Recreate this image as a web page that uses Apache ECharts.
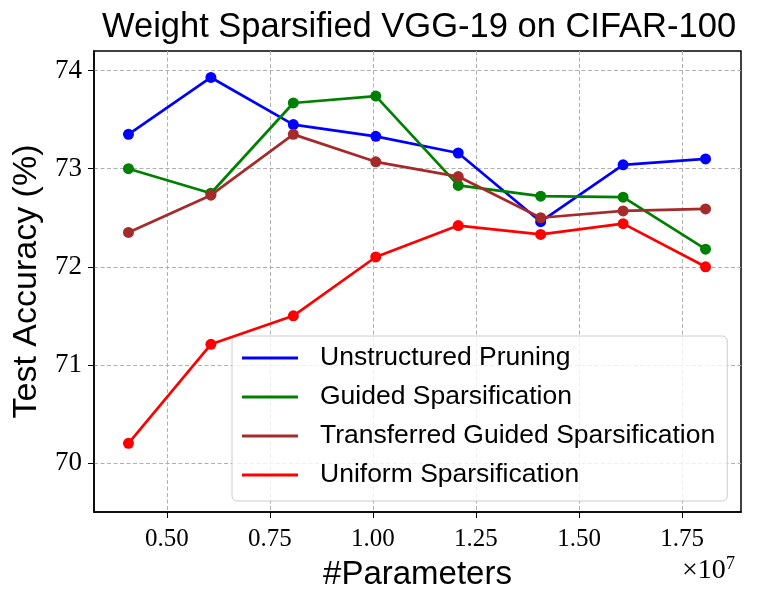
<!DOCTYPE html>
<html>
<head>
<meta charset="utf-8">
<script src="https://cdn.jsdelivr.net/npm/echarts@6/dist/echarts.min.js"></script>
<style>html,body{margin:0;padding:0;background:#fff}#c{width:762px;height:605px}</style>
</head>
<body>
<div id="c"></div>
<script>
// x values in units of 1e7 parameters
const params = [0.407, 0.607, 0.807, 1.007, 1.207, 1.407, 1.607, 1.807];
const seriesNames = ['Unstructured Pruning', 'Guided Sparsification', 'Transferred Guided Sparsification', 'Uniform Sparsification'];
const unstructured = [73.35, 73.93, 73.45, 73.33, 73.16, 72.46, 73.04, 73.10];
const guided = [73.00, 72.75, 73.67, 73.74, 72.83, 72.72, 72.71, 72.18];
const transferred = [72.35, 72.73, 73.35, 73.07, 72.92, 72.50, 72.57, 72.59];
const uniform = [70.20, 71.21, 71.50, 72.10, 72.42, 72.33, 72.44, 72.00];
const xTicks = [0.50, 0.75, 1.00, 1.25, 1.50, 1.75];
const yTicks = [70, 71, 72, 73, 74];
const colors = ['#0000ff', '#008000', '#a52a2a', '#ff0000'];
const allData = [unstructured, guided, transferred, uniform];

const chart = echarts.init(document.getElementById('c'), null, {renderer: 'canvas'});
const sans = 'Liberation Sans';
const serif = 'Liberation Serif';
const gridLine = {show: true, lineStyle: {color: '#b0b0b0', width: 1, type: [4, 2.5]}};

chart.setOption({
  backgroundColor: '#fff',
  animation: false,
  title: {
    text: 'Weight Sparsified VGG-19 on CIFAR-100',
    left: 97,
    top: 5,
    textStyle: {fontFamily: sans, fontSize: 34.5, fontWeight: 'normal', color: '#000'}
  },
  grid: {left: 94, right: 21, top: 51, bottom: 93, show: true, borderColor: '#000', borderWidth: 1.5, backgroundColor: 'transparent'},
  legend: {
    orient: 'vertical',
    left: 232,
    top: 336,
    data: seriesNames.map(n => ({name: n, icon: 'rect'})),
    itemWidth: 56,
    itemHeight: 3,
    itemGap: 9,
    padding: [7, 12, 11, 10],
    backgroundColor: 'rgba(255,255,255,0.8)',
    borderColor: '#cccccc',
    borderWidth: 1,
    borderRadius: 5,
    textStyle: {fontFamily: sans, fontSize: 26.5, color: '#000', lineHeight: 30, padding: [0, 0, 0, 17]}
  },
  xAxis: {
    type: 'value',
    min: 0.3234,
    max: 1.893,
    name: '#Parameters',
    nameLocation: 'middle',
    nameGap: 46,
    nameTextStyle: {fontFamily: sans, fontSize: 33, color: '#000'},
    axisLine: {show: true, onZero: false, lineStyle: {color: '#000', width: 1.5}},
    axisTick: {show: true, inside: false, length: 6, customValues: xTicks, lineStyle: {color: '#000', width: 1}},
    axisLabel: {customValues: xTicks, margin: 15, fontFamily: serif, fontSize: 25, color: '#000', formatter: v => v.toFixed(2)},
    splitLine: gridLine
  },
  yAxis: {
    type: 'value',
    min: 69.5,
    max: 74.2,
    name: 'Test Accuracy (%)',
    nameLocation: 'middle',
    nameGap: 50,
    nameTextStyle: {fontFamily: sans, fontSize: 34, color: '#000'},
    axisLine: {show: true, lineStyle: {color: '#000', width: 1.5}},
    axisTick: {show: true, inside: false, length: 6, customValues: yTicks, lineStyle: {color: '#000', width: 1}},
    axisLabel: {customValues: yTicks, margin: 12, fontFamily: serif, fontSize: 27, color: '#000', formatter: v => String(Math.round(v))},
    splitLine: gridLine
  },
  graphic: [
    {type: 'text', left: 682, top: 557, style: {text: '×10', fontFamily: serif, fontSize: 28, fill: '#000'}},
    {type: 'text', left: 726, top: 555, style: {text: '7', fontFamily: serif, fontSize: 18, fill: '#000'}}
  ],
  series: seriesNames.map((n, i) => ({
    name: n,
    type: 'line',
    data: params.map((x, j) => [x, allData[i][j]]),
    symbol: 'circle',
    symbolSize: 11,
    lineStyle: {color: colors[i], width: 2.7},
    itemStyle: {color: colors[i]},
    z: 2 + i
  }))
});
</script>
</body>
</html>
